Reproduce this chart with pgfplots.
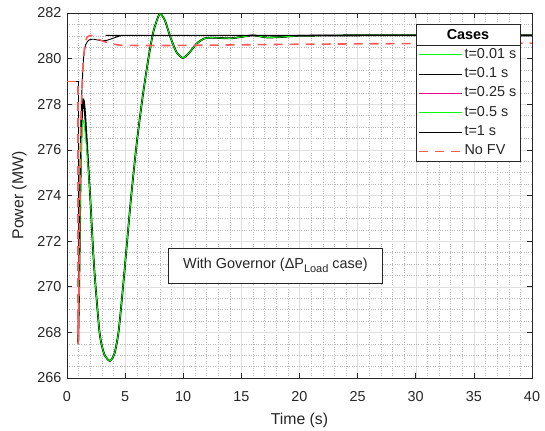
\documentclass[border=0pt]{standalone}
\usepackage{fontspec}
\setmainfont{Liberation Sans}
\usepackage{pgfplots}
\pgfplotsset{compat=1.18}
\usepackage{pgfplotstable}
\usetikzlibrary{calc}

\definecolor{axgray}{rgb}{0.15,0.15,0.15}
\definecolor{nofv}{rgb}{1,0.35,0.35}
\definecolor{grn}{rgb}{0,1,0}

% oscillating response (t=0.1 s), after the step at t=0.95
\pgfplotstableread{
t p
0.95 267.5
1.05 270.2
1.15 274.2
1.27 277.3
1.4 278.2
1.52 277.8
1.7 276.4
2.0 273.9
2.33 270.9
2.8 268.0
3.2 267.05
3.7 266.75
4.1 267.1
4.43 268.0
4.71 269.4
5.0 271.0
5.49 273.8
6.0 276.3
6.5 278.3
7.0 280.0
7.44 281.2
7.96 281.95
8.4 281.7
8.88 280.96
9.4 280.3
9.97 280.03
10.5 280.25
11.18 280.67
11.8 280.88
12.4 280.92
14 280.89
15 280.95
16 281.02
17.2 280.93
18.5 280.95
20 281.0
25 281.02
40 281.02
}\osca

% same, smaller first spike (t=0.01 s)
\pgfplotstableread{
t p
0.95 267.5
1.05 270.0
1.15 273.8
1.27 276.6
1.38 277.3
1.5 277.0
1.7 276.0
2.0 273.9
2.33 270.9
2.8 268.0
3.2 267.05
3.7 266.75
4.1 267.1
4.43 268.0
4.71 269.4
5.0 271.0
5.49 273.8
6.0 276.3
6.5 278.3
7.0 280.0
7.44 281.2
7.96 281.95
8.4 281.7
8.88 280.96
9.4 280.3
9.97 280.03
10.5 280.25
11.18 280.67
11.8 280.88
12.4 280.92
14 280.89
15 280.95
16 281.02
17.2 280.93
18.5 280.95
20 281.0
25 281.02
40 281.02
}\oscb

\begin{document}
\begin{tikzpicture}
\begin{axis}[
  scale only axis,
  width=465bp, height=365bp,
  xmin=0, xmax=40, ymin=266, ymax=282,
  xtick={0,5,...,40}, ytick={266,268,...,282},
  minor x tick num=4, minor y tick num=3,
  grid=both,
  major grid style={gray!25, line width=0.5bp},
  minor grid style={gray!55, dotted, line width=0.4bp},
  tick align=inside,
  major tick length=5bp, minor tick length=0pt,
  axis line style={axgray, line width=0.6bp},
  tick style={axgray, line width=0.6bp},
  ticklabel style={font=\fontsize{14.4bp}{16bp}\selectfont, text=axgray},
  /pgf/number format/assume math mode=true,
  /pgf/number format/1000 sep={},
  xticklabel style={yshift=-10bp},
  yticklabel style={xshift=-2bp},
  xlabel={Time (s)}, ylabel={Power (MW)},
  label style={font=\fontsize{15.8bp}{18bp}\selectfont, text=axgray},
  xlabel style={yshift=-4bp},
  ylabel style={yshift=4bp},
  legend cell align=left,
  legend image code/.code={\draw[#1] (0bp,0bp) -- (43bp,0bp);},
  legend style={
    draw=none, fill=none,
    at={(rel axis cs:0.7505,0.9123)}, anchor=north west,
    inner xsep=2bp, inner ysep=0bp, row sep=0pt, column sep=1bp,
    font=\fontsize{14.4bp}{16bp}\selectfont,
    nodes={text height=10bp, text depth=3bp, inner ysep=3.15bp, inner xsep=1bp, text=axgray},
  },
]
% initial level and step, common to all cases
\addplot[black, line width=0.9bp, forget plot] coordinates {(0,279) (0.95,279) (0.95,267.5)};

\addplot[magenta, line width=0.8bp, smooth, tension=0.4, forget plot] table[x=t, y=p] {\osca};
\addplot[grn, line width=0.8bp, smooth, tension=0.4, forget plot] table[x=t, y=p] {\osca};
\addplot[black, line width=1.8bp, smooth, tension=0.4, forget plot] table[x=t, y=p] {\osca};
\addplot[grn, line width=0.9bp, smooth, tension=0.4, forget plot] table[x=t, y=p] {\oscb};
\addplot[black, line width=0.9bp, smooth, tension=0.4, forget plot] coordinates {
  (0.95,267.5) (1.0,268) (1.08,273) (1.18,276.9)
  (1.3,278.8) (1.42,280.0) (1.6,280.6) (1.9,280.82) (2.3,280.85)
  (2.8,280.8) (3.4,280.8) (4.0,280.9) (4.6,281.0) (5.2,281.02) (40,281.02)
};
\addplot[nofv, line width=1.6bp, dash pattern=on 9bp off 7bp, forget plot] coordinates {
  (0,279) (0.95,279) (0.95,267.5)
};
\addplot[nofv, line width=1.6bp, dash pattern=on 9bp off 7bp, smooth, tension=0.4, forget plot] coordinates {
  (0.95,267.5) (1.0,268) (1.08,273) (1.18,276.9)
  (1.3,278.8) (1.42,280.0) (1.55,280.65) (1.75,280.95) (2.1,281.02)
  (2.5,280.92) (2.9,280.8) (3.5,280.7) (4.2,280.62) (5,280.58)
  (10,280.58) (20,280.63) (30,280.66) (40,280.68)
};

\addlegendimage{draw=grn, line width=0.9bp}
\addlegendentry{t=0.01 s}
\addlegendimage{draw=black, line width=0.9bp}
\addlegendentry{t=0.1 s}
\addlegendimage{draw=magenta, line width=1.2bp}
\addlegendentry{t=0.25 s}
\addlegendimage{draw=grn, line width=0.9bp}
\addlegendentry{t=0.5 s}
\addlegendimage{draw=black, line width=0.9bp}
\addlegendentry{t=1 s}
\addlegendimage{draw=nofv, line width=1.4bp, dash pattern=on 9bp off 7bp}
\addlegendentry{No FV}

% legend box with title
\draw[axgray, fill=white, line width=0.6bp]
  (rel axis cs:0.7505,0.5945) rectangle (rel axis cs:0.974,0.9699);
\draw[axgray, line width=0.6bp]
  (rel axis cs:0.7505,0.9123) -- (rel axis cs:0.974,0.9123);
\node[font=\fontsize{14.4bp}{16bp}\selectfont\bfseries, text=black]
  at (rel axis cs:0.8623,0.9411) {Cases};

% annotation
\node[draw=axgray, fill=white, line width=0.6bp, minimum width=214bp,
  minimum height=35bp, inner sep=0pt, text=axgray,
  font=\fontsize{14.4bp}{16bp}\selectfont]
  at (axis cs:17.93,270.93)
  {With Governor (ΔP\raisebox{-0.45ex}{\fontsize{11bp}{12bp}\selectfont Load} case)};
\end{axis}
\path ($(current axis.south west)+(-67bp,-53bp)$) rectangle
      ($(current axis.north east)+(13bp,13bp)$);
\end{tikzpicture}
\end{document}
